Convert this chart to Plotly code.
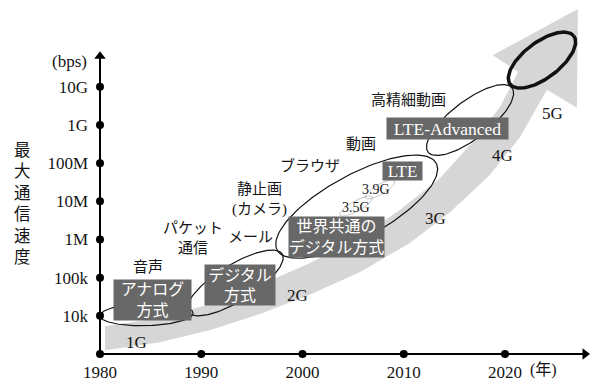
import numpy as np
import plotly.graph_objects as go

# ---------------- data ----------------
YEAR_TICKS = [1980, 1990, 2000, 2010, 2020]
YEAR_TICK_TEXT = ["1980", "1990", "2000", "2010", "2020"]
SPEED_TICKS = [1e4, 1e5, 1e6, 1e7, 1e8, 1e9, 1e10]
SPEED_TICK_TEXT = ["10k", "100k", "1M", "10M", "100M", "1G", "10G"]

# generation ellipses: start/end (year, log10 bps) of the long axis, minor/major ratio
GEN_NAMES = ["1G", "2G", "3G", "4G", "5G", "3.5G", "3.9G"]
GEN_START_YEAR = [1980.0, 1988.7, 1997.5, 2012.4, 2020.5, 2003.7, 2006.2]
GEN_START_EXP = [4.00, 4.10, 5.72, 8.29, 10.07, 6.64, 7.09]
GEN_END_YEAR = [1989.2, 1998.0, 2013.2, 2020.7, 2026.8, 2006.9, 2009.1]
GEN_END_EXP = [4.07, 5.62, 8.00, 9.97, 11.33, 7.11, 7.53]
GEN_RATIO = [0.24, 0.33, 0.35, 0.36, 0.45, 0.28, 0.30]
GEN_LINE_W = [1.2, 1.2, 1.2, 1.2, 3.5, 0.8, 0.8]
GEN_LINE_C = ["#111111"] * 5 + ["#b8b8b8", "#b8b8b8"]

# big grey trend arrow (year, log10 bps)
BAND_UPPER_YEAR = [1980.5, 1985.9, 1990.9, 1995.8, 2000.7, 2005.7, 2009.6, 2013.6, 2017.0, 2019.5, 2021.3]
BAND_UPPER_EXP = [3.73, 3.94, 4.31, 4.81, 5.38, 6.07, 6.77, 7.61, 8.61, 9.47, 10.39]
HEAD_YEAR = [2018.8, 2027.2, 2027.1, 2024.15]
HEAD_EXP = [10.83, 12.04, 9.45, 9.92]
BAND_LOWER_YEAR = [2021.5, 2018.5, 2014.6, 2010.6, 2005.7, 2000.7, 1995.8, 1990.9, 1985.9, 1980.5]
BAND_LOWER_EXP = [8.69, 7.69, 6.72, 5.91, 5.15, 4.55, 4.05, 3.63, 3.31, 3.10]

# plain labels: text, year, log10 bps, font size
LABEL_TEXT = ["音声", "1G", "パケット<br>通信", "メール", "静止画<br>(カメラ)", "2G", "ブラウザ",
              "3.5G", "3.9G", "動画", "3G", "高精細動画", "4G", "5G"]
LABEL_YEAR = [1984.7, 1983.6, 1989.2, 1994.9, 1995.8, 1999.5, 2000.7,
              2005.3, 2007.3, 2005.8, 2013.1, 2010.5, 2019.8, 2024.7]
LABEL_EXP = [5.28, 3.31, 6.04, 6.07, 7.04, 4.52, 7.95,
             6.85, 7.30, 8.50, 6.56, 9.65, 8.21, 9.29]
LABEL_SIZE = [15, 17, 15, 15, 15, 17, 15, 14, 14, 15, 17, 15, 17, 17]

# dark boxes
BOX_TEXT = ["アナログ<br>方式", "デジタル<br>方式", "世界共通の<br>デジタル方式", "LTE", "LTE-Advanced"]
BOX_YEAR = [1985.2, 1993.8, 2003.4, 2009.9, 2014.3]
BOX_EXP = [4.42, 4.81, 6.07, 7.79, 8.92]
BOX_W = [77, 70, 95, 39, 121]
BOX_H = [40, 40, 40, 18, 21]
BOX_FONT = [16, 16, 16, 17, 17.5]

Y_TITLE = "最大通信速度"

# ---------------- geometry / layout ----------------
W, H = 600, 392
ML, MR, MT, MB = 92, 10, 5, 32
PX_PER_YEAR = 10.125
PX_PER_DECADE = 38.17
X0 = 1980 - 8 / PX_PER_YEAR
X1 = X0 + (W - ML - MR) / PX_PER_YEAR
Y0 = 3 - 6 / PX_PER_DECADE
Y1 = Y0 + (H - MT - MB) / PX_PER_DECADE
PLOT_W = W - ML - MR
PLOT_H = H - MT - MB

FONT = "Liberation Serif, Noto Sans CJK JP, serif"
INK = "#151515"


def px_paper(px, py):
    return (px - ML) / PLOT_W, (H - MB - py) / PLOT_H


def ellipse(y1, e1, y2, e2, ratio, n=160):
    x1, z1 = y1 * PX_PER_YEAR, e1 * PX_PER_DECADE
    x2, z2 = y2 * PX_PER_YEAR, e2 * PX_PER_DECADE
    cx, cz = (x1 + x2) / 2, (z1 + z2) / 2
    a = np.hypot(x2 - x1, z2 - z1) / 2
    ux, uz = (x2 - x1) / (2 * a), (z2 - z1) / (2 * a)
    vx, vz = -uz, ux
    b = ratio * a
    t = np.linspace(0, 2 * np.pi, n)
    X = cx + a * np.cos(t) * ux + b * np.sin(t) * vx
    Z = cz + a * np.cos(t) * uz + b * np.sin(t) * vz
    return X / PX_PER_YEAR, 10 ** (Z / PX_PER_DECADE)


fig = go.Figure()

# grey arrow
ax_ = BAND_UPPER_YEAR + HEAD_YEAR + BAND_LOWER_YEAR
ay_ = BAND_UPPER_EXP + HEAD_EXP + BAND_LOWER_EXP
fig.add_trace(go.Scatter(x=ax_, y=[10 ** v for v in ay_], mode="lines", fill="toself",
                         fillcolor="#d6d6d6", line=dict(width=0, color="#d6d6d6"),
                         hoverinfo="skip", showlegend=False))

# ellipses
for i, name in enumerate(GEN_NAMES):
    ex, ey = ellipse(GEN_START_YEAR[i], GEN_START_EXP[i], GEN_END_YEAR[i], GEN_END_EXP[i], GEN_RATIO[i])
    fig.add_trace(go.Scatter(x=ex, y=ey, mode="lines",
                             line=dict(color=GEN_LINE_C[i], width=GEN_LINE_W[i]),
                             hoverinfo="skip", showlegend=False, name=name))

# axes lines
fig.add_trace(go.Scatter(x=[1980, 1980], y=[1e3, 10 ** 10.78], mode="lines",
                         line=dict(color="black", width=2), showlegend=False, hoverinfo="skip"))
fig.add_trace(go.Scatter(x=[1980, 2027.9], y=[1e3, 1e3], mode="lines",
                         line=dict(color="black", width=2), showlegend=False, hoverinfo="skip"))
# arrow heads
fig.add_trace(go.Scatter(x=[1980], y=[10 ** 10.80], mode="markers",
                         marker=dict(symbol="triangle-up", size=10, color="black"),
                         cliponaxis=False, showlegend=False, hoverinfo="skip"))
fig.add_trace(go.Scatter(x=[2027.9], y=[1e3], mode="markers",
                         marker=dict(symbol="triangle-right", size=10, color="black"),
                         cliponaxis=False, showlegend=False, hoverinfo="skip"))
# tick dots
fig.add_trace(go.Scatter(x=[1980] * len(SPEED_TICKS) + YEAR_TICKS,
                         y=SPEED_TICKS + [1e3] * len(YEAR_TICKS), mode="markers",
                         marker=dict(size=8, color="black"), cliponaxis=False,
                         showlegend=False, hoverinfo="skip"))

ann = []
for t, x, e, s in zip(LABEL_TEXT, LABEL_YEAR, LABEL_EXP, LABEL_SIZE):
    ann.append(dict(x=x, y=e, xref="x", yref="y", text=t, showarrow=False,
                    xanchor="center", yanchor="middle",
                    font=dict(family=FONT, size=s, color=INK)))
for t, x, e, w, h, s in zip(BOX_TEXT, BOX_YEAR, BOX_EXP, BOX_W, BOX_H, BOX_FONT):
    ann.append(dict(x=x, y=e, xref="x", yref="y", text=t, showarrow=False,
                    xanchor="center", yanchor="middle",
                    width=w, height=h, bgcolor="#686868", borderpad=0,
                    font=dict(family=FONT, size=s, color="white")))
# vertical y title
tx, ty = px_paper(22, 204)
ann.append(dict(x=tx, y=ty, xref="paper", yref="paper", text="<br>".join(Y_TITLE),
                showarrow=False, xanchor="center", yanchor="middle",
                font=dict(family=FONT, size=16.5, color=INK)))
bx, by = px_paper(89, 61)
ann.append(dict(x=bx, y=by, xref="paper", yref="paper", text="(bps)", showarrow=False,
                xanchor="right", yanchor="middle", font=dict(family=FONT, size=17, color=INK)))
nx, ny = px_paper(543, 370)
ann.append(dict(x=nx, y=ny, xref="paper", yref="paper", text="(年)", showarrow=False,
                xanchor="center", yanchor="middle", font=dict(family=FONT, size=16, color=INK)))

fig.update_layout(
    width=W, height=H, margin=dict(l=ML, r=MR, t=MT, b=MB),
    paper_bgcolor="white", plot_bgcolor="white", showlegend=False,
    annotations=ann,
    xaxis=dict(range=[X0, X1], tickvals=YEAR_TICKS, ticktext=YEAR_TICK_TEXT,
               showgrid=False, zeroline=False, showline=False, ticks="",
               tickfont=dict(family=FONT, size=17, color=INK)),
    yaxis=dict(type="log", range=[Y0, Y1], tickvals=SPEED_TICKS, ticktext=SPEED_TICK_TEXT,
               showgrid=False, zeroline=False, showline=False, ticks="",
               ticklabelstandoff=3,
               tickfont=dict(family=FONT, size=17, color=INK)),
)

fig.write_html("out.html", config={"displayModeBar": False},
               post_script="document.body.style.margin='0';")
